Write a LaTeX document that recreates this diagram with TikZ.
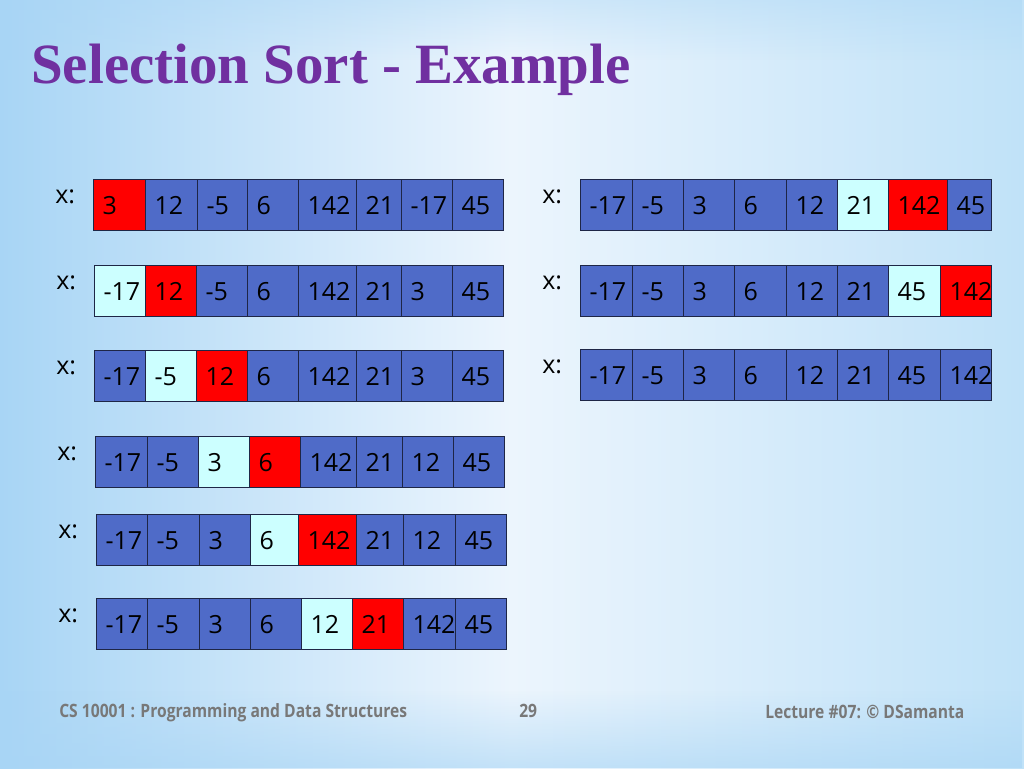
\documentclass[tikz,border=0pt]{standalone}
\usepackage{fontspec}
\usetikzlibrary{fadings}
\setmainfont{Open Sans}
\newfontfamily\titlefont{Liberation Serif}
\newfontfamily\footfont{Open Sans}[FakeStretch=0.85]
\definecolor{cblue}{RGB}{79,107,200}
\definecolor{cred}{RGB}{255,0,0}
\definecolor{ccyan}{RGB}{204,255,255}
\definecolor{cline}{RGB}{30,38,70}
\definecolor{titlepurple}{RGB}{112,48,160}
\definecolor{footgray}{RGB}{120,120,120}
\definecolor{bgleft}{RGB}{168,213,245}
\definecolor{bgmid}{RGB}{236,245,253}
\definecolor{bgright}{RGB}{192,226,248}
\tikzset{
  cell/.style={draw=cline, line width=0.75pt, rectangle, anchor=west,
    minimum height=38.25pt, inner xsep=6.75pt, inner ysep=0pt, align=left,
    text height=15.6pt, text depth=0pt, font=\fontsize{18.75}{20}\selectfont},
  xlab/.style={anchor=west, inner sep=0pt, font=\fontsize{18.75}{20}\selectfont},
  foot/.style={anchor=base west, inner sep=0pt, text=footgray,
    font=\footfont\bfseries\fontsize{13.8}{16}\selectfont}
}
% one array row: name, top edge, cells as x0/x1/value/colour
\newcommand{\xrow}[3]{%
  \foreach \a/\b/\v/\c [count=\i] in {#3} {
    \pgfmathsetmacro\cellw{(\b-\a)*0.75}
    \pgfmathsetmacro\textw{\cellw-13.5}
    \node[cell, fill=\c, minimum width=\cellw pt, text width=\textw pt] (#1c\i) at (\a,#2+25.5) {\mbox{\v}};
  }
  \node[xlab] (#1x) at ([xshift=-28.5pt,yshift=5.5pt]#1c1.west) {x:};
}

\begin{document}
\begin{tikzpicture}[x=0.75pt,y=-0.75pt]
    \useasboundingbox (0,0) rectangle (1024,768);
    % background
    \shade[left color=bgleft, right color=bgright, middle color=bgmid] (0,0) rectangle (1024,768);
    \fill[bgleft, path fading=north, opacity=0.6] (0,690) rectangle (1024,768);
    \fill[bgleft, path fading=south, opacity=0.4] (0,0) rectangle (1024,60);

    \node[anchor=base west, inner sep=0pt, text=titlepurple,
          font=\titlefont\bfseries\fontsize{42.7}{50}\selectfont] (title) at (31,83) {Selection Sort - Example};

    % left column
    \xrow{a}{179}{93/145/3/cred, 145/197/12/cblue, 197/247/-5/cblue, 247/298/6/cblue, 298/356/142/cblue, 356/401/21/cblue, 401/452/-17/cblue, 452/503/45/cblue}
    \xrow{b}{265}{94/145/-17/ccyan, 145/196/12/cred, 196/247/-5/cblue, 247/298/6/cblue, 298/356/142/cblue, 356/401/21/cblue, 401/452/3/cblue, 452/503/45/cblue}
    \xrow{c}{350}{94/145/-17/cblue, 145/196/-5/ccyan, 196/247/12/cred, 247/298/6/cblue, 298/356/142/cblue, 356/401/21/cblue, 401/452/3/cblue, 452/503/45/cblue}
    \xrow{d}{436}{95/147/-17/cblue, 147/198/-5/cblue, 198/249/3/ccyan, 249/300/6/cred, 300/356/142/cblue, 356/402/21/cblue, 402/453/12/cblue, 453/504/45/cblue}
    \xrow{e}{514}{96/147/-17/cblue, 147/199/-5/cblue, 199/250/3/cblue, 250/298/6/ccyan, 298/356/142/cred, 356/403/21/cblue, 403/455/12/cblue, 455/506/45/cblue}
    \xrow{f}{598}{96/147/-17/cblue, 147/199/-5/cblue, 199/250/3/cblue, 250/301/6/cblue, 301/352/12/ccyan, 352/403/21/cred, 403/455/142/cblue, 455/506/45/cblue}

    % right column
    \xrow{g}{179}{580/632/-17/cblue, 632/683/-5/cblue, 683/734/3/cblue, 734/786/6/cblue, 786/837/12/cblue, 837/888/21/ccyan, 888/947/142/cred, 947/991/45/cblue}
    \xrow{h}{265}{580/632/-17/cblue, 632/683/-5/cblue, 683/734/3/cblue, 734/786/6/cblue, 786/837/12/cblue, 837/888/21/cblue, 888/940/45/ccyan, 940/991/142/cred}
    \xrow{i}{349}{580/632/-17/cblue, 632/683/-5/cblue, 683/734/3/cblue, 734/786/6/cblue, 786/837/12/cblue, 837/888/21/cblue, 888/940/45/cblue, 940/991/142/cblue}

    % footer
    \node[foot] (course) at (59,717) {CS 10001 : Programming and Data Structures};
    \node[foot] (page) at (519,717) {29};
    \node[foot] (lecture) at (765,718) {Lecture \#07: © DSamanta};
\end{tikzpicture}
\end{document}
